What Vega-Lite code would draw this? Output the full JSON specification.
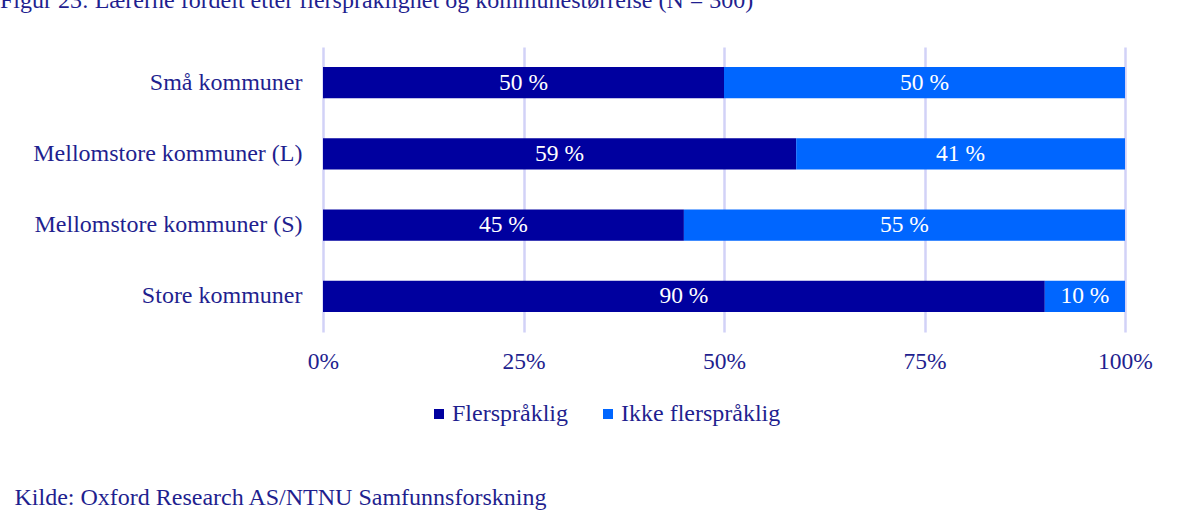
{
  "$schema": "https://vega.github.io/schema/vega-lite/v6.json",
  "width": 802,
  "height": 285,
  "autosize": {"type": "none"},
  "padding": {"left": 323, "top": 47, "right": 69, "bottom": 184},
  "background": "white",
  "title": {
    "text": "Figur 23: Lærerne fordelt etter flerspråklighet og kommunestørrelse (N = 300)",
    "anchor": "start",
    "frame": "group",
    "orient": "top",
    "baseline": "alphabetic",
    "offset": 15,
    "dx": -323,
    "font": "Liberation Serif",
    "fontSize": 24,
    "fontWeight": "normal",
    "color": "#1f1f8f",
    "limit": 1100
  },
  "data": {
    "values": [
      {"group": "Små kommuner", "type": "Flerspråklig", "value": 50, "label": "50 %"},
      {"group": "Små kommuner", "type": "Ikke flerspråklig", "value": 50, "label": "50 %"},
      {"group": "Mellomstore kommuner (L)", "type": "Flerspråklig", "value": 59, "label": "59 %"},
      {"group": "Mellomstore kommuner (L)", "type": "Ikke flerspråklig", "value": 41, "label": "41 %"},
      {"group": "Mellomstore kommuner (S)", "type": "Flerspråklig", "value": 45, "label": "45 %"},
      {"group": "Mellomstore kommuner (S)", "type": "Ikke flerspråklig", "value": 55, "label": "55 %"},
      {"group": "Store kommuner", "type": "Flerspråklig", "value": 90, "label": "90 %"},
      {"group": "Store kommuner", "type": "Ikke flerspråklig", "value": 10, "label": "10 %"}
    ]
  },
  "encoding": {
    "y": {
      "field": "group",
      "type": "nominal",
      "sort": null,
      "scale": {"paddingInner": 0.56, "paddingOuter": 0.28},
      "axis": {
        "title": null,
        "domain": false,
        "ticks": false,
        "grid": false,
        "labelPadding": 21,
        "labelLimit": 400,
        "labelFont": "Liberation Serif",
        "labelFontSize": 24,
        "labelColor": "#1f1f8f"
      }
    },
    "order": {"field": "type", "type": "nominal", "sort": "ascending"}
  },
  "layer": [
    {
      "mark": {"type": "bar"},
      "encoding": {
        "x": {
          "field": "value",
          "type": "quantitative",
          "stack": "zero",
          "scale": {"domain": [0, 100], "nice": false},
          "axis": {
            "values": [0, 25, 50, 75, 100],
            "labelExpr": "datum.value + '%'",
            "labelFlush": false,
            "domain": false,
            "ticks": false,
            "grid": true,
            "gridColor": "#d2d2f7",
            "gridWidth": 2.5,
            "labelPadding": 17,
            "labelFont": "Liberation Serif",
            "labelFontSize": 23.5,
            "labelColor": "#1f1f8f",
            "title": "Kilde: Oxford Research AS/NTNU Samfunnsforskning",
            "titleFont": "Liberation Serif",
            "titleFontSize": 24,
            "titleFontWeight": "normal",
            "titleColor": "#1f1f8f",
            "titleAnchor": "start",
            "titleAlign": "left",
            "titleBaseline": "middle",
            "titleX": -309,
            "titleY": 165
          }
        },
        "color": {
          "field": "type",
          "type": "nominal",
          "scale": {"domain": ["Flerspråklig", "Ikke flerspråklig"], "range": ["#00009f", "#0066ff"]},
          "legend": {
            "title": null,
            "orient": "none",
            "direction": "horizontal",
            "legendX": 104,
            "legendY": 355,
            "symbolType": "square",
            "symbolSize": 100,
            "symbolStrokeWidth": 0,
            "symbolOpacity": 1,
            "labelOffset": 1,
            "columnPadding": 28,
            "labelFont": "Liberation Serif",
            "labelFontSize": 24,
            "labelColor": "#1f1f8f",
            "labelLimit": 400
          }
        }
      }
    },
    {
      "mark": {"type": "text", "color": "white", "font": "Liberation Serif", "fontSize": 23.5, "baseline": "middle", "align": "center"},
      "encoding": {
        "x": {"field": "value", "type": "quantitative", "stack": "zero", "bandPosition": 0.5},
        "detail": {"field": "type", "type": "nominal"},
        "text": {"field": "label", "type": "nominal"}
      }
    }
  ],
  "config": {
    "view": {"stroke": null}
  }
}
